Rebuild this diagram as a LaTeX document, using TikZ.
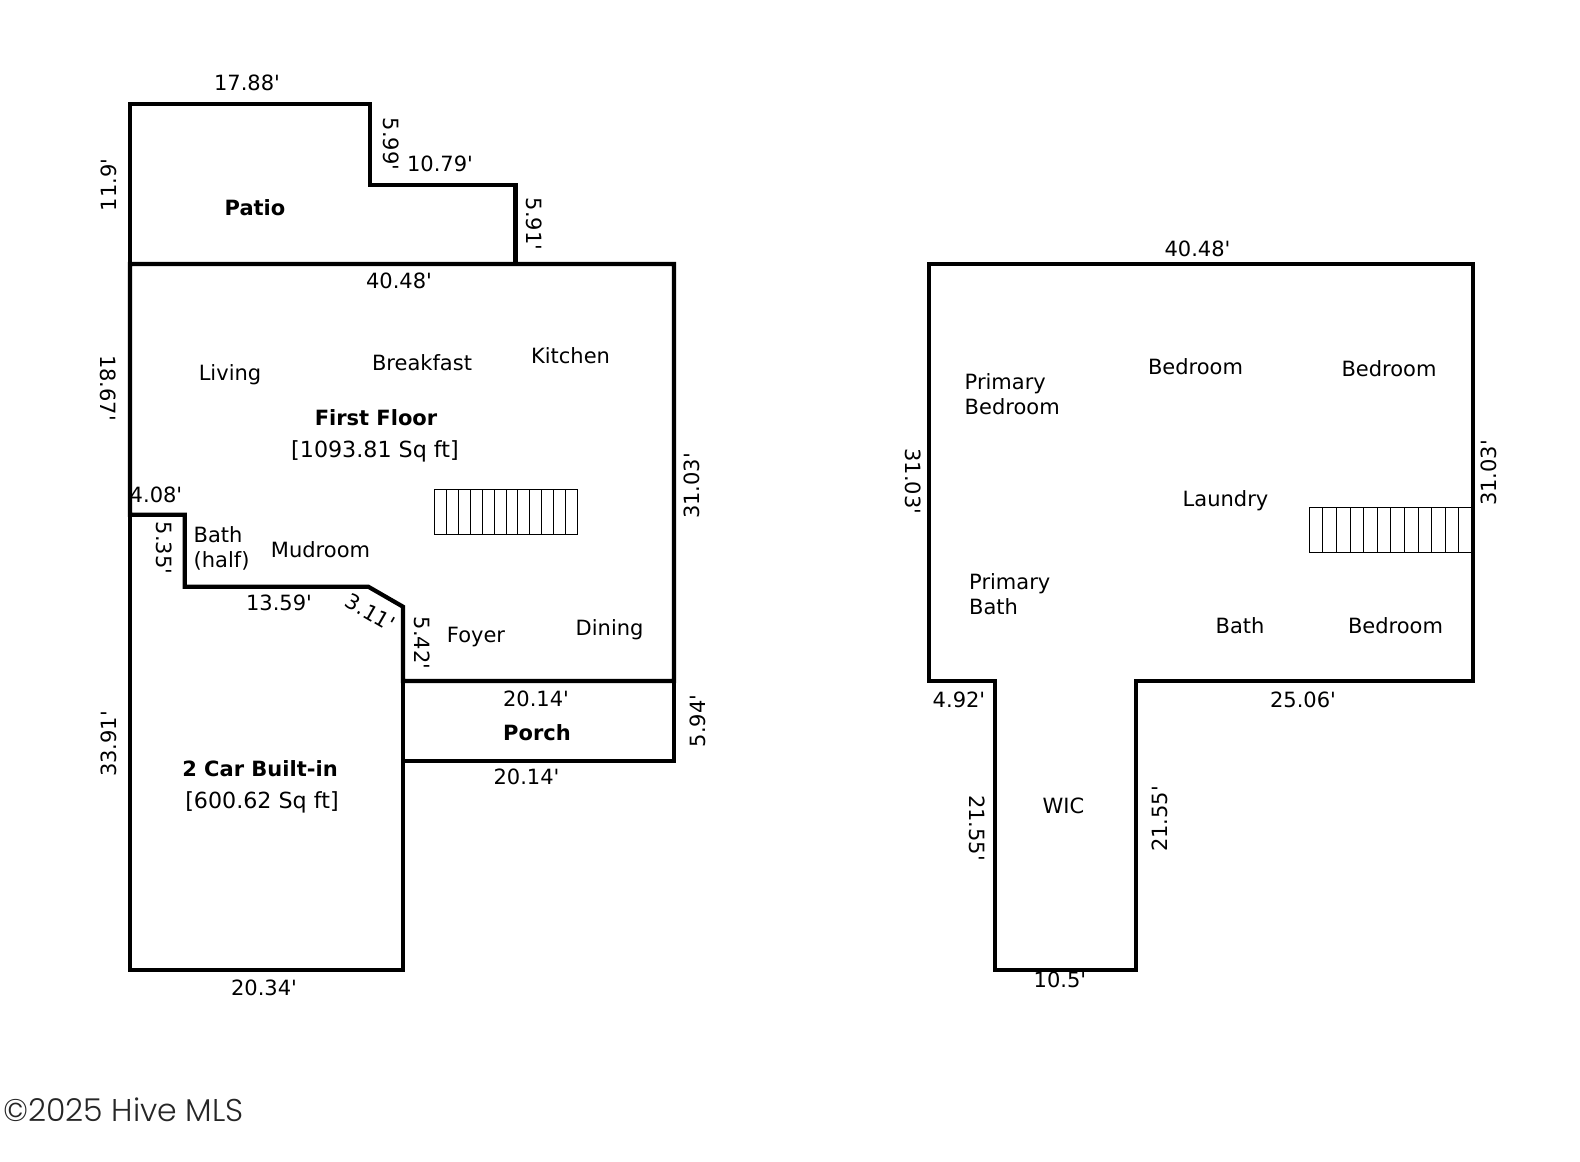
\documentclass[tikz,border=0pt]{standalone}
\usepackage{fontspec}
\newfontfamily\planfont{DejaVu Sans}
\newfontfamily\markfont{Poppins Light}
\usepackage{xcolor}
\usepackage{tikz}
\tikzstyle{wall} = [line width=4.2pt, draw=black, line join=miter]
\tikzstyle{stair} = [line width=1pt, draw=black]
\tikzstyle{dim} = [inner sep=0pt, font=\planfont\fontsize{21}{25}\selectfont]
\tikzstyle{room} = [inner sep=0pt, font=\planfont\fontsize{21}{25}\selectfont]
\tikzstyle{roomleft} = [inner sep=0pt, align=left, anchor=west, font=\planfont\fontsize{21}{25}\selectfont]
\tikzstyle{area} = [inner sep=0pt, font=\planfont\fontsize{21}{25}\selectfont\bfseries]
\tikzstyle{size} = [inner sep=0pt, font=\planfont\fontsize{22.2}{25}\selectfont]
\tikzstyle{hivemark} = [inner sep=0pt, anchor=west, text=black!85, font=\markfont\fontsize{31.5}{34}\selectfont]

\begin{document}
\begin{tikzpicture}[x=1pt, y=-1pt]
    \useasboundingbox (0,0) rectangle (1580,1162);
    % first plan
    \draw[wall] (130,104) -- (370,104) -- (370,185) -- (515.5,185) -- (515.5,264) -- (130,264) -- cycle;
    \draw[wall] (130,264) -- (674,264) -- (674,681) -- (403,681) -- (403,606.7) -- (368.3,586.7)
      -- (184.7,586.7) -- (184.7,514.7) -- (130,514.7) -- cycle;
    \draw[wall] (130,514.7) -- (130,970) -- (403,970) -- (403,681);
    \draw[wall] (403,681) -- (674,681) -- (674,761) -- (403,761);
    \draw[stair] (434.3,489.3) rectangle (577.7,534.3);
    \foreach \i in {1,...,11}
      \draw[stair] (434.3+11.95*\i,489.3) -- (434.3+11.95*\i,534.3);

    \node (dimA) [dim] at (247,83) {17.88'};
    \node (dimB) [dim, rotate=-90] at (391,144) {5.99'};
    \node (dimC) [dim] at (440,164) {10.79'};
    \node (dimD) [dim, rotate=-90] at (534.5,224) {5.91'};
    \node (dimE) [dim, rotate=90] at (109,185) {11.9'};
    \node (patio) [area] at (255,207.5) {Patio};
    \node (dimF) [dim] at (399,281) {40.48'};
    \node (dimG) [dim, rotate=-90] at (108,388) {18.67'};
    \node (living) [room] at (230,375) {Living};
    \node (breakfast) [room] at (422,363) {Breakfast};
    \node (kitchen) [room] at (570.5,356) {Kitchen};
    \node (first) [area] at (376,417.5) {First Floor};
    \node (firstsize) [size] at (375,451) {[1093.81 Sq ft]};
    \node (dimH) [dim, rotate=90] at (692,486) {31.03'};
    \node (dimI) [dim] at (156,494.5) {4.08'};
    \node (dimJ) [dim, rotate=-90] at (164,548) {5.35'};
    \node (bathhalf) [roomleft] at (193.5,548) {Bath\\(half)};
    \node (mudroom) [room] at (320.5,550) {Mudroom};
    \node (dimK) [dim] at (279,602.5) {13.59'};
    \node (dimL) [dim, rotate=-30] at (370.5,612.5) {3.11'};
    \node (dimM) [dim, rotate=-90] at (422,643) {5.42'};
    \node (foyer) [room] at (476,637.5) {Foyer};
    \node (dining) [room] at (609.6,629.7) {Dining};
    \node (dimN) [dim] at (536,698.5) {20.14'};
    \node (porch) [area] at (537,732.5) {Porch};
    \node (dimO) [dim, rotate=90] at (698,721) {5.94'};
    \node (dimP) [dim] at (526.5,776.5) {20.14'};
    \node (dimQ) [dim, rotate=90] at (109,744) {33.91'};
    \node (garage) [area] at (260,769) {2 Car Built-in};
    \node (garagesize) [size] at (262,802) {[600.62 Sq ft]};
    \node (dimR) [dim] at (264,987.5) {20.34'};

    % second plan
    \draw[wall] (929,264) -- (1472.7,264) -- (1472.7,681) -- (1136,681) -- (1136,970)
      -- (995,970) -- (995,681) -- (929,681) -- cycle;
    \draw[stair] (1309.3,507.3) rectangle (1472.7,552.3);
    \foreach \i in {1,...,11}
      \draw[stair] (1309.3+13.6*\i,507.3) -- (1309.3+13.6*\i,552.3);

    \node (dimS) [dim] at (1197.5,249) {40.48'};
    \node (primarybed) [roomleft] at (964.5,394.5) {Primary\\Bedroom};
    \node (bedA) [room] at (1195.5,367) {Bedroom};
    \node (bedB) [room] at (1389,369) {Bedroom};
    \node (dimT) [dim, rotate=-90] at (913.5,481.5) {31.03'};
    \node (laundry) [room] at (1225.5,501) {Laundry};
    \node (dimU) [dim, rotate=90] at (1489,473) {31.03'};
    \node (primarybath) [roomleft] at (969,594) {Primary\\Bath};
    \node (bath) [room] at (1240,626) {Bath};
    \node (bedC) [room] at (1395.5,626) {Bedroom};
    \node (dimV) [dim] at (959,699.5) {4.92'};
    \node (dimW) [dim] at (1303,700) {25.06'};
    \node (dimX) [dim, rotate=-90] at (977,828) {21.55'};
    \node (wic) [room] at (1063.5,806) {WIC};
    \node (dimY) [dim, rotate=90] at (1160,819) {21.55'};
    \node (dimZ) [dim] at (1060,980) {10.5'};

    \node (hive) [hivemark] at (3,1110) {©2025 Hive MLS};
\end{tikzpicture}
\end{document}
